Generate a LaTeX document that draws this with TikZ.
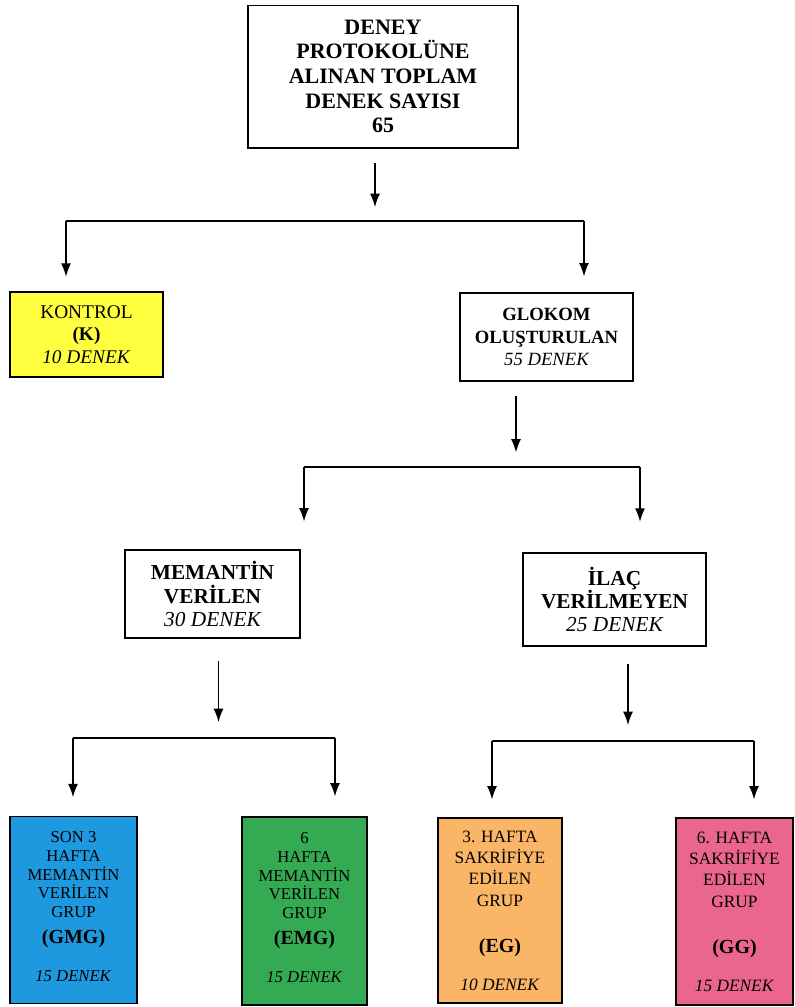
\documentclass[tikz,border=0pt]{standalone}
\usepackage{fontspec}
\setmainfont{Liberation Serif}
\usepackage{tikz}
\usetikzlibrary{arrows.meta}

\definecolor{kyellow}{RGB}{255,255,64}
\definecolor{kblue}{RGB}{30,152,222}
\definecolor{kgreen}{RGB}{52,170,82}
\definecolor{korange}{RGB}{250,182,102}
\definecolor{kpink}{RGB}{234,102,140}

\tikzset{
  box/.style={draw, line width=1pt, align=center, inner sep=0pt},
  conn/.style={line width=1pt},
  arr/.style={conn, -{Latex[length=10pt,width=7.5pt]}},
  grpbox/.style={box, font=\fontsize{12.5}{14}\selectfont},
}

\begin{document}
\begin{tikzpicture}[x=0.75pt,y=0.75pt,yscale=-1,xscale=1]
\useasboundingbox (0,0) rectangle (795,1007);

% boxes
\node [box, minimum width=202.5pt, minimum height=107pt, font=\fontsize{16.5}{18.5}\selectfont\bfseries] (toplam) at (383,76.5) {DENEY\\PROTOKOLÜNE\\ALINAN TOPLAM\\DENEK SAYISI\\65};
\node [box, fill=kyellow, minimum width=114.75pt, minimum height=63.75pt, font=\fontsize{14.5}{17}\selectfont] (kontrol) at (86.5,334.5) {KONTROL\\\textbf{(K)}\\\textit{10 DENEK}};
\node [box, minimum width=129.75pt, minimum height=66pt, font=\fontsize{14}{17}\selectfont\bfseries] (glokom) at (546.5,337) {GLOKOM\\OLUŞTURULAN\\{\mdseries\itshape 55 DENEK}};
\node [box, minimum width=131.25pt, minimum height=66pt, font=\fontsize{16}{17.5}\selectfont\bfseries] (memantin) at (212.5,594) {MEMANTİN\\VERİLEN\\{\mdseries\itshape 30 DENEK}};
\node [box, minimum width=137.25pt, minimum height=69.75pt, font=\fontsize{16}{17.5}\selectfont\bfseries] (ilac) at (614.5,599.5) {İLAÇ\\VERİLMEYEN\\{\mdseries\itshape 25 DENEK}};

% groups
\node [grpbox, fill=kblue, minimum width=95.25pt, minimum height=140.25pt] (gmg) at (73.5,910) {SON 3\\HAFTA\\MEMANTİN\\VERİLEN\\GRUP\\[5.5pt]{\fontsize{15}{17}\selectfont\bfseries (GMG)}\\[14.5pt]\textit{15 DENEK}\\[-9pt]\mbox{}};
\node [grpbox, fill=kgreen, minimum width=93.75pt, minimum height=141pt] (emg) at (304.5,911) {6\\HAFTA\\MEMANTİN\\VERİLEN\\GRUP\\[5.5pt]{\fontsize{15}{17}\selectfont\bfseries (EMG)}\\[14.5pt]\textit{15 DENEK}\\[-9pt]\mbox{}};
\node [grpbox, fill=korange, minimum width=93pt, minimum height=138.75pt, font=\fontsize{13}{16}\selectfont] (eg) at (500,910.5) {3. HAFTA\\SAKRİFİYE\\EDİLEN\\GRUP\\[19pt]{\fontsize{15}{17}\selectfont\bfseries (EG)}\\[12pt]\textit{10 DENEK}};
\node [grpbox, fill=kpink, minimum width=87.75pt, minimum height=140.25pt, font=\fontsize{13}{16}\selectfont] (gg) at (734.5,911.5) {6. HAFTA\\SAKRİFİYE\\EDİLEN\\GRUP\\[19pt]{\fontsize{15}{17}\selectfont\bfseries (GG)}\\[12pt]\textit{15 DENEK}};

% branch points
\coordinate (br1) at (375,221);
\coordinate (b1l) at (66,221);
\coordinate (b1r) at (584,221);
\coordinate (br2) at (516,467);
\coordinate (b2l) at (304,467);
\coordinate (b2r) at (640,467);
\coordinate (br3) at (218.5,738);
\coordinate (b3l) at (73,738);
\coordinate (b3r) at (335,738);
\coordinate (br4) at (628,741);
\coordinate (b4l) at (492,741);
\coordinate (b4r) at (754,741);

% arrows
\draw [arr, shorten <=11pt, shorten >=10.5pt] (toplam.south -| br1) -- (br1);
\draw [conn] (b1l) -- (b1r);
\draw [arr, shorten >=11pt] (b1l) -- (b1l |- kontrol.north);
\draw [arr, shorten >=12pt] (b1r) -- (b1r |- glokom.north);

\draw [arr, shorten <=10.5pt, shorten >=11pt] (glokom.south -| br2) -- (br2);
\draw [conn] (b2l) -- (b2r);
\draw [arr, shorten >=21pt] (b2l) -- (b2l |- memantin.north);
\draw [arr, shorten >=23pt] (b2r) -- (b2r |- ilac.north);

\draw [arr, shorten <=17pt, shorten >=12pt] (memantin.south -| br3) -- (br3);
\draw [conn] (b3l) -- (b3r);
\draw [arr, shorten >=14pt] (b3l) -- (b3l |- gmg.north);
\draw [arr, shorten >=15pt] (b3r) -- (b3r |- emg.north);

\draw [arr, shorten <=13pt, shorten >=12pt] (ilac.south -| br4) -- (br4);
\draw [conn] (b4l) -- (b4r);
\draw [arr, shorten >=13.5pt] (b4l) -- (b4l |- eg.north);
\draw [arr, shorten >=13.5pt] (b4r) -- (b4r |- gg.north);

\end{tikzpicture}
\end{document}
